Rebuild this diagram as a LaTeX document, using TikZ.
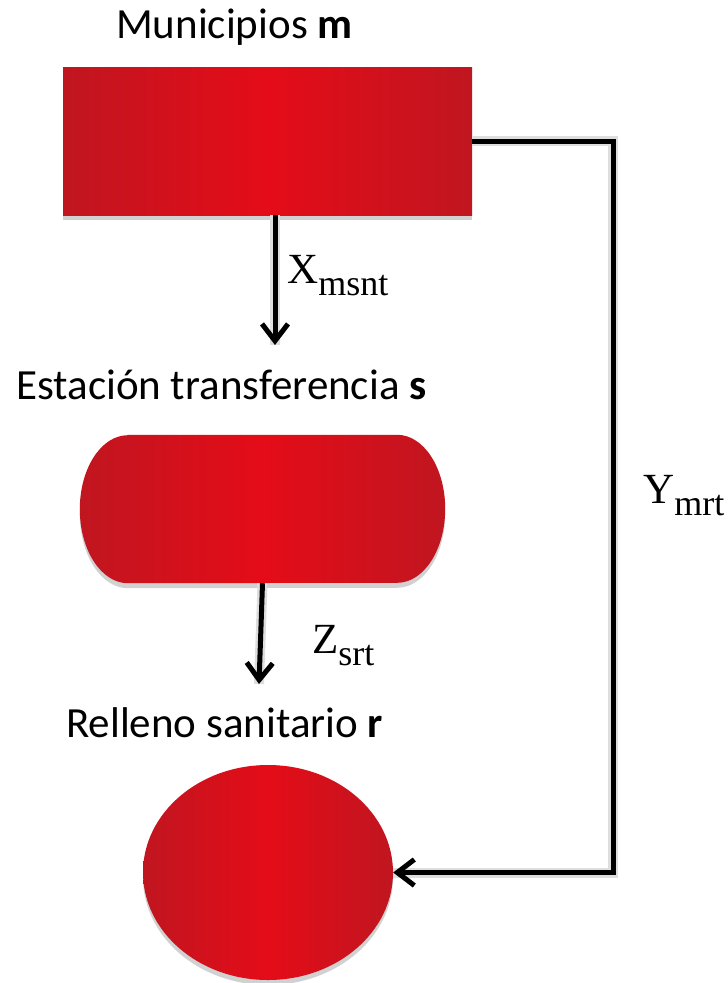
\documentclass[tikz,border=0pt]{standalone}
\usepackage{fontspec}
\setmainfont{Carlito}
\newfontfamily\lblfont{Liberation Serif}
\usetikzlibrary{arrows.meta,shapes.geometric,shapes.misc,shadows}
\definecolor{redmid}{RGB}{228,12,24}
\definecolor{reddark}{RGB}{192,22,32}
\tikzset{
  redshape/.style={draw=none, left color=reddark, right color=reddark, middle color=redmid,
    drop shadow={shadow xshift=0pt, shadow yshift=-5pt, fill=black!45, opacity=.4}, inner sep=0pt},
  titletext/.style={anchor=base west, inner sep=0pt, font=\fontsize{43}{43}\selectfont},
  lbl/.style={anchor=base west, inner sep=0pt, font=\lblfont\fontsize{43}{43}\selectfont},
  conn/.style={line width=5pt, -{Straight Barb[length=17pt,width=26pt]},
    preaction={draw=black!13, line width=10pt, -}}
}
\newcommand{\subtxt}[1]{\raisebox{-12pt}{\fontsize{36}{36}\selectfont #1}}
\begin{document}
\begin{tikzpicture}[x=1pt,y=-1pt]
\useasboundingbox (0,0) rectangle (728,983);
\node[titletext] (tm) at (116,38) {Municipios \textbf{m}};
\node[redshape, rectangle, minimum width=409pt, minimum height=148pt] (m) at (267.5,141) {};
\node[titletext] (ts) at (16,399) {Estación transferencia \textbf{s}};
\node[inner sep=0pt, minimum width=365pt, minimum height=148pt] (s) at (262.5,509) {};
\path[redshape] ([xshift=48pt]s.north west) -- ([xshift=-48pt]s.north east)
  arc[start angle=-90, end angle=90, x radius=48, y radius=74]
  -- ([xshift=48pt]s.south west)
  arc[start angle=90, end angle=270, x radius=48, y radius=74] -- cycle;
\node[titletext] (tr) at (66,737) {Relleno sanitario \textbf{r}};
\node[redshape, ellipse, minimum width=250pt, minimum height=215pt] (r) at (268,872.5) {};
\coordinate (xend) at (275,345);
\coordinate (zend) at (259,684);
\coordinate (ycorner) at (613,141);
\draw[conn] (m.south -| xend) -- (xend);
\draw[conn] (s.south) -- (zend);
\draw[conn] (m.east) -- (ycorner) |- (r.east);
\node[lbl] (xl) at (287,283) {X\subtxt{msnt}};
\node[lbl] (zl) at (312,653) {Z\subtxt{srt}};
\node[lbl] (yl) at (643,503) {Y\subtxt{mrt}};
\end{tikzpicture}
\end{document}
